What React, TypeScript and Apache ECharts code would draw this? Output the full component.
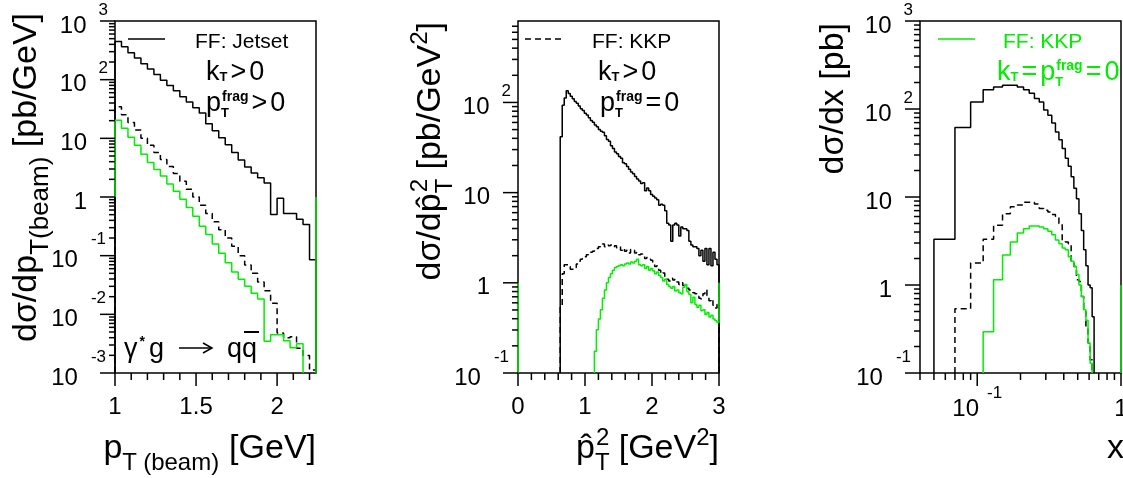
import React, { useEffect, useRef } from "react";
import * as echarts from "echarts";

const FONT = '"Liberation Sans", Arial, Helvetica, sans-serif';
const BLACK = "#000000";
const GREEN = "#00ee00";

// ---------------- Panel 1 : dσ/dp_T(beam), bins of 0.04 GeV from 1.00 ----------------
const p1Start = 1.0;
const p1Width = 0.04;
// log10 of bin contents [pb/GeV]
const p1JetsetLog10 = [2.65, 2.56, 2.46, 2.37, 2.27, 2.18, 2.09, 1.99, 1.9, 1.81, 1.71, 1.62, 1.52, 1.43, 1.25, 1.13, 1.01, 0.89, 0.76, 0.63, 0.51, 0.41, 0.33, 0.24, -0.3, -0.02, -0.28, -0.28, -0.38, -0.47, -1.07];
const p1KkpLog10 = [1.54, 1.4, 1.27, 1.14, 1.0, 0.88, 0.76, 0.64, 0.52, 0.4, 0.27, 0.13, 0.0, -0.14, -0.28, -0.42, -0.56, -0.7, -0.84, -1.0, -1.16, -1.3, -1.45, -1.6, -1.81, -2.32, -2.4, -2.38, -2.58, -2.7, -2.95];
const p1KkpNoKtLog10 = [1.31, 1.17, 1.02, 0.88, 0.73, 0.59, 0.47, 0.36, 0.22, 0.1, -0.04, -0.18, -0.33, -0.5, -0.64, -0.8, -0.96, -1.12, -1.28, -1.4, -1.52, -1.64, -1.74, -2.46, -2.35, -2.35, -2.45, -2.57, -2.5];
const p1GreenFrom = 1;
const p1GreenEdge = [[2.24, 0.001], [2.24, 1]];

// ---------------- Panel 2 : dσ/dp̂T², bins of 0.03 GeV² ----------------
const p2Width = 0.03;
const p2BlackStart = 0.63;
const p2JetsetLog10 = [1.62, 1.97, 2.05, 2.13, 2.1, 2.07, 2.04, 2.01, 1.99, 1.96, 1.93, 1.91, 1.88, 1.86, 1.83, 1.8, 1.78, 1.75, 1.73, 1.7, 1.68, 1.67, 1.63, 1.59, 1.57, 1.52, 1.49, 1.45, 1.43, 1.4, 1.38, 1.33, 1.32, 1.29, 1.26, 1.23, 1.21, 1.18, 1.15, 1.13, 1.1, 1.11, 1.02, 1.05, 1.02, 0.98, 0.96, 0.94, 0.92, 0.86, 0.87, 0.86, 0.8, 0.66, 0.64, 0.46, 0.64, 0.66, 0.64, 0.52, 0.62, 0.6, 0.6, 0.58, 0.46, 0.42, 0.4, 0.4, 0.38, 0.3, 0.36, 0.24, 0.38, 0.2, 0.38, 0.19, 0.34, 0.26, 0.2];
const p2DashStart = 0.63;
const p2KkpLog10 = [-0.25, 0.1, 0.2, 0.2, 0.18, 0.15, 0.15, 0.17, 0.21, 0.24, 0.26, 0.27, 0.29, 0.31, 0.33, 0.34, 0.35, 0.37, 0.38, 0.4, 0.41, 0.43, 0.4, 0.42, 0.41, 0.42, 0.4, 0.41, 0.39, 0.4, 0.36, 0.38, 0.35, 0.36, 0.33, 0.37, 0.36, 0.33, 0.34, 0.31, 0.32, 0.3, 0.27, 0.28, 0.26, 0.25, 0.22, 0.18, 0.19, 0.14, 0.1, 0.11, 0.06, 0.04, 0.02, 0.05, 0.03, 0.04, 0.01, -0.02, 0.0, -0.03, -0.05, -0.06, -0.08, -0.1, -0.11, -0.12, -0.15, -0.17, -0.18, -0.12, -0.08, -0.14, -0.2, -0.18, -0.25, -0.28, -0.24];
const p2GreenStart = 1.14;
const p2KkpNoKtLog10 = [-0.76, -0.52, -0.4, -0.3, -0.17, -0.08, 0.0, 0.06, 0.1, 0.14, 0.17, 0.18, 0.19, 0.2, 0.19, 0.21, 0.22, 0.21, 0.23, 0.22, 0.24, 0.26, 0.2, 0.19, 0.2, 0.16, 0.18, 0.14, 0.16, 0.13, 0.1, 0.12, 0.08, 0.06, 0.02, 0.04, -0.02, -0.04, -0.06, -0.04, -0.09, -0.08, -0.11, -0.12, -0.05, -0.02, -0.1, -0.13, -0.22, -0.16, -0.24, -0.27, -0.25, -0.31, -0.3, -0.35, -0.33, -0.38, -0.36, -0.4, -0.42, -0.44];
const p2GreenTo = 1;
const p2GreenEdge = [[0, 0.1], [0, 1]];

// ---------------- Panel 3 : dσ/dx, bins of 0.02 in x ----------------
const p3Width = 0.02;
const p3BlackStart = 0.05;
const p3JetsetLog10 = [0.52, 1.79, 2.08, 2.22, 2.25, 2.27, 2.27, 2.25, 2.22, 2.18, 2.12, 2.08, 1.99, 1.93, 1.84, 1.74, 1.65, 1.55, 1.44, 1.35, 1.23, 1.1, 0.98, 0.81, 0.62, 0.4, 0.22, 0.0, -0.03, -0.36];
const p3DashStart = 0.07;
const p3KkpLog10 = [-0.27, 0.25, 0.52, 0.68, 0.81, 0.89, 0.91, 0.94, 0.94, 0.92, 0.87, 0.85, 0.83, 0.8, 0.78, 0.7, 0.51, 0.49, 0.47, 0.25, 0.21, 0.06, 0.04, -0.13, -0.3, -0.49, -0.66, -0.85];
const p3GreenStart = 0.11;
const p3KkpNoKtLog10 = [-0.53, 0.06, 0.34, 0.49, 0.59, 0.64, 0.67, 0.67, 0.66, 0.64, 0.61, 0.57, 0.51, 0.47, 0.42, 0.4, 0.32, 0.27, 0.21, 0.12, 0.0, -0.13, -0.28, -0.4, -0.66, -0.89];
const p3GreenEdge = [[1, 0.1], [1, 1]];

// ---------------- axis ranges and ticks ----------------
const P1X = [1, 2.24];
const P1Y = [0.001, 1000];
const P2X = [0, 3];
const P2Y = [0.1, 800];
const P3X = [0.04, 1];
const P3Y = [0.1, 1000];
const p1XMajor = [1, 1.5, 2];
const p1XMinor = [1.1, 1.2, 1.3, 1.4, 1.6, 1.7, 1.8, 1.9, 2.1, 2.2];
const p2XMajor = [0, 1, 2, 3];
const p2XMinor = [0.2, 0.4, 0.6, 0.8, 1.2, 1.4, 1.6, 1.8, 2.2, 2.4, 2.6, 2.8];

const GRIDS = [
  { left: 115, top: 21, width: 201, height: 352 },
  { left: 518, top: 21, width: 201, height: 352 },
  { left: 920, top: 21, width: 201, height: 352 },
];

function logTicks(lo: number, hi: number) {
  const major: number[] = [];
  const minor: number[] = [];
  for (let e = Math.floor(Math.log10(lo)) - 1; e <= Math.ceil(Math.log10(hi)); e++) {
    const d = Math.pow(10, e);
    if (d >= lo * 0.9999 && d <= hi * 1.0001) major.push(d);
    for (let k = 2; k < 10; k++) {
      const v = k * d;
      if (v >= lo * 0.9999 && v < hi * 0.9999) minor.push(v);
    }
  }
  return { major, minor };
}

function hist(start: number, width: number, logs: number[], floor: number, from?: number, to?: number) {
  const pts: number[][] = [[start, from ?? floor]];
  logs.forEach((l, i) => {
    const v = Math.pow(10, l);
    pts.push([start + i * width, v], [start + (i + 1) * width, v]);
  });
  pts.push([start + logs.length * width, to ?? floor]);
  return pts;
}

function histSeries(name: string, idx: number, data: number[][], color: string, dashed: boolean, z = 3) {
  return {
    name,
    type: "line",
    xAxisIndex: idx,
    yAxisIndex: idx,
    data,
    symbol: "none",
    showSymbol: false,
    silent: true,
    clip: true,
    z,
    lineStyle: { color, width: 1.5, type: dashed ? [6, 4] : "solid" },
    itemStyle: { color },
  };
}

function tickSeries(idx: number, dir: "x" | "y", data: number[][]) {
  return {
    type: "custom",
    xAxisIndex: idx,
    yAxisIndex: idx,
    silent: true,
    clip: false,
    z: 10,
    data,
    renderItem: (_p: any, api: any) => {
      const pt = api.coord([api.value(0), api.value(1)]);
      const len = api.value(2);
      const shape =
        dir === "x"
          ? { x1: pt[0], y1: pt[1], x2: pt[0], y2: pt[1] + len }
          : { x1: pt[0] - len, y1: pt[1], x2: pt[0], y2: pt[1] };
      return { type: "line", shape, style: { stroke: BLACK, lineWidth: 1.5 } };
    },
  };
}

const xTickData = (major: number[], minor: number[], yv: number) => [
  ...major.map((v) => [v, yv, 13]),
  ...minor.map((v) => [v, yv, 7]),
];
const yTickData = (major: number[], minor: number[], xv: number) => [
  ...major.map((v) => [xv, v, 15]),
  ...minor.map((v) => [xv, v, 6]),
];

const LH = 30;
const yRich = {
  p: { fontSize: 24, fontFamily: FONT, color: BLACK, lineHeight: LH, padding: [6, 21, 0, 0] },
  b: { fontSize: 24, fontFamily: FONT, color: BLACK, lineHeight: LH, padding: [6, 0, 0, 0] },
  e: { fontSize: 17, fontFamily: FONT, color: BLACK, lineHeight: LH, padding: [0, 0, 24, 12] },
  n: { fontSize: 17, fontFamily: FONT, color: BLACK, lineHeight: LH, padding: [0, 2, 34, 13] },
};
const xRich = {
  p: { fontSize: 24, fontFamily: FONT, color: BLACK, lineHeight: LH },
  b: { fontSize: 24, fontFamily: FONT, color: BLACK, lineHeight: LH },
  n: { fontSize: 17, fontFamily: FONT, color: BLACK, lineHeight: LH, padding: [0, 0, 30, 8] },
};

const logLabel = (v: number) => {
  const l = Math.log10(v);
  const e = Math.round(l);
  if (Math.abs(l - e) > 1e-6) return "";
  if (e === 0) return "{p|1}";
  if (e === 1) return "{p|10}";
  return e > 0 ? `{b|10}{e|${e}}` : `{b|10}{n|${e}}`;
};

const baseAxis = {
  axisLine: { show: false },
  axisTick: { show: false },
  minorTick: { show: false },
  splitLine: { show: false },
};

const tRich = (fill: string) => ({
  m: { fontSize: 34, fontFamily: FONT, fill, align: "left" },
  s: { fontSize: 24, fontFamily: FONT, fill, padding: [30, 0, 0, 0], align: "left" },
  sb: { fontSize: 26, fontFamily: FONT, fill, padding: [30, 0, 0, 0], align: "left" },
  st: { fontSize: 24, fontFamily: FONT, fill, padding: [30, 0, 0, 0], width: 1, align: "left" },
  u: { fontSize: 24, fontFamily: FONT, fill, padding: [0, 0, 20, 0], align: "left" },
});
const aRich = (fill: string) => ({
  f: { fontSize: 21, fontFamily: FONT, fill },
  m: { fontSize: 27, fontFamily: FONT, fill },
  g: { fontSize: 27, fontFamily: FONT, fill, padding: [0, 3, 0, 3] },
  s: { fontSize: 13, fontWeight: "bold", fontFamily: FONT, fill, padding: [11, 0, 0, 0] },
  st: { fontSize: 13, fontWeight: "bold", fontFamily: FONT, fill, padding: [20, 0, 0, 0], width: 1, align: "left" },
  u: { fontSize: 14, fontWeight: "bold", fontFamily: FONT, fill, padding: [0, 0, 13, 0] },
  us: { fontSize: 14, fontWeight: "bold", fontFamily: FONT, fill, padding: [0, 4, 14, 2] },
});

function txt(x: number, y: number, text: string, rich: any, align = "left", rotation = 0) {
  return {
    type: "text",
    x,
    y,
    rotation,
    silent: true,
    style: { text, rich, align, verticalAlign: "middle", fill: BLACK, fontFamily: FONT },
  };
}

const yLabel = { margin: 7, formatter: logLabel, rich: yRich, showMinLabel: true, showMaxLabel: true, hideOverlap: false };

export default function App() {
  const ref = useRef<HTMLDivElement>(null);
  useEffect(() => {
    if (!ref.current) return;
    const chart = echarts.init(ref.current, null, { renderer: "svg" });
    const t1 = logTicks(P1Y[0], P1Y[1]);
    const t2 = logTicks(P2Y[0], P2Y[1]);
    const t3y = logTicks(P3Y[0], P3Y[1]);
    const t3x = logTicks(P3X[0], P3X[1]);
    const option: any = {
      animation: false,
      textStyle: { fontFamily: FONT },
      grid: GRIDS.map((g) => ({ ...g, show: true, borderColor: BLACK, borderWidth: 1.5, backgroundColor: "transparent", containLabel: false, outerBoundsMode: "none" })),
      xAxis: [
        { ...baseAxis, gridIndex: 0, type: "value", min: P1X[0], max: P1X[1], interval: 0.5, axisLabel: { margin: 17, showMinLabel: true, showMaxLabel: false, hideOverlap: false, formatter: (v: number) => `{p|${v}}`, rich: xRich } },
        { ...baseAxis, gridIndex: 1, type: "value", min: P2X[0], max: P2X[1], interval: 1, axisLabel: { margin: 17, showMinLabel: true, showMaxLabel: true, hideOverlap: false, formatter: (v: number) => `{p|${v}}`, rich: xRich } },
        { ...baseAxis, gridIndex: 2, type: "log", logBase: 10, min: P3X[0], max: P3X[1], axisLabel: { margin: 19, showMaxLabel: true, hideOverlap: false, formatter: logLabel, rich: xRich } },
      ],
      yAxis: [
        { ...baseAxis, gridIndex: 0, type: "log", logBase: 10, min: P1Y[0], max: P1Y[1], axisLabel: yLabel },
        { ...baseAxis, gridIndex: 1, type: "log", logBase: 10, min: P2Y[0], max: P2Y[1], axisLabel: yLabel },
        { ...baseAxis, gridIndex: 2, type: "log", logBase: 10, min: P3Y[0], max: P3Y[1], axisLabel: yLabel },
      ],
      series: [
        histSeries("FF: Jetset", 0, hist(p1Start, p1Width, p1JetsetLog10, P1Y[0]), BLACK, false),
        histSeries("FF: KKP", 0, hist(p1Start, p1Width, p1KkpLog10, P1Y[0]), BLACK, true),
        histSeries("FF: KKP, kT=0", 0, hist(p1Start, p1Width, p1KkpNoKtLog10, P1Y[0], p1GreenFrom), GREEN, false, 4),
        histSeries("edge", 0, p1GreenEdge, GREEN, false, 4),

        histSeries("FF: Jetset", 1, hist(p2BlackStart, p2Width, p2JetsetLog10, P2Y[0]), BLACK, false),
        histSeries("FF: KKP", 1, hist(p2DashStart, p2Width, p2KkpLog10, P2Y[0]), BLACK, true),
        histSeries("FF: KKP, kT=0", 1, hist(p2GreenStart, p2Width, p2KkpNoKtLog10, P2Y[0], undefined, p2GreenTo), GREEN, false, 4),
        histSeries("edge", 1, p2GreenEdge, GREEN, false, 4),

        histSeries("FF: Jetset", 2, hist(p3BlackStart, p3Width, p3JetsetLog10, P3Y[0]), BLACK, false),
        histSeries("FF: KKP", 2, hist(p3DashStart, p3Width, p3KkpLog10, P3Y[0]), BLACK, true),
        histSeries("FF: KKP, kT=0", 2, hist(p3GreenStart, p3Width, p3KkpNoKtLog10, P3Y[0]), GREEN, false, 4),
        histSeries("edge", 2, p3GreenEdge, GREEN, false, 4),

        tickSeries(0, "x", xTickData(p1XMajor, p1XMinor, P1Y[0])),
        tickSeries(0, "y", yTickData(t1.major, t1.minor, P1X[0])),
        tickSeries(1, "x", xTickData(p2XMajor, p2XMinor, P2Y[0])),
        tickSeries(1, "y", yTickData(t2.major, t2.minor, P2X[0])),
        tickSeries(2, "x", xTickData(t3x.major, t3x.minor, P3Y[0])),
        tickSeries(2, "y", yTickData(t3y.major, t3y.minor, P3X[0])),
      ],
      graphic: [
        // axis titles
        txt(24, 13, "{m|dσ/dp}{sb|T(beam)}{m| [pb/GeV]}", tRich(BLACK), "right", Math.PI / 2),
        txt(316, 446, "{m|p}{s|T (beam)}{m| [GeV]}", tRich(BLACK), "right"),
        txt(428, 22, "{m|dσ/dp\u0302}{st|T}{u|2}{m| [pb/GeV}{u|2}{m|]}", tRich(BLACK), "right", Math.PI / 2),
        txt(719, 446, "{m|p\u0302}{st|T}{u|2}{m| [GeV}{u|2}{m|]}", tRich(BLACK), "right"),
        txt(831, 23, "{m|dσ/dx [pb]}", tRich(BLACK), "right", Math.PI / 2),
        txt(1124, 446, "{m|x}", tRich(BLACK), "right"),
        // panel 1 annotations
        { type: "line", silent: true, shape: { x1: 128, y1: 39, x2: 165, y2: 39 }, style: { stroke: BLACK, lineWidth: 1.5 } },
        txt(195, 40, "{f|FF: Jetset}", aRich(BLACK)),
        txt(206, 71, "{m|k}{s|T}{g|>}{m|0}", aRich(BLACK)),
        txt(206, 102, "{m|p}{st|T}{u|frag}{g|>}{m|0}", aRich(BLACK)),
        txt(124, 348, "{m|γ}{us|*}{m|g}", aRich(BLACK)),
        { type: "line", silent: true, shape: { x1: 179, y1: 348, x2: 211, y2: 348 }, style: { stroke: BLACK, lineWidth: 1.5 } },
        { type: "polyline", silent: true, shape: { points: [[203, 343], [212, 348], [203, 353]] }, style: { stroke: BLACK, lineWidth: 1.5, fill: "none" } },
        txt(227, 348, "{m|qq}", aRich(BLACK)),
        { type: "line", silent: true, shape: { x1: 244, y1: 332, x2: 259, y2: 332 }, style: { stroke: BLACK, lineWidth: 2 } },
        // panel 2 annotations
        { type: "line", silent: true, shape: { x1: 525, y1: 39, x2: 563, y2: 39 }, style: { stroke: BLACK, lineWidth: 1.5, lineDash: [6, 4] } },
        txt(592, 40, "{f|FF: KKP}", aRich(BLACK)),
        txt(598, 71, "{m|k}{s|T}{g|>}{m|0}", aRich(BLACK)),
        txt(600, 102, "{m|p}{st|T}{u|frag}{g|=}{m|0}", aRich(BLACK)),
        // panel 3 annotations
        { type: "line", silent: true, shape: { x1: 938, y1: 39, x2: 975, y2: 39 }, style: { stroke: GREEN, lineWidth: 1.5 } },
        txt(1003, 40, "{f|FF: KKP}", aRich(GREEN)),
        txt(997, 71, "{m|k}{s|T}{g|=}{m|p}{st|T}{u|frag}{g|=}{m|0}", aRich(GREEN)),
      ],
    };
    chart.setOption(option);
    return () => chart.dispose();
  }, []);
  return <div ref={ref} style={{ position: "fixed", left: 0, top: 0, width: 1123, height: 478 }} />;
}
